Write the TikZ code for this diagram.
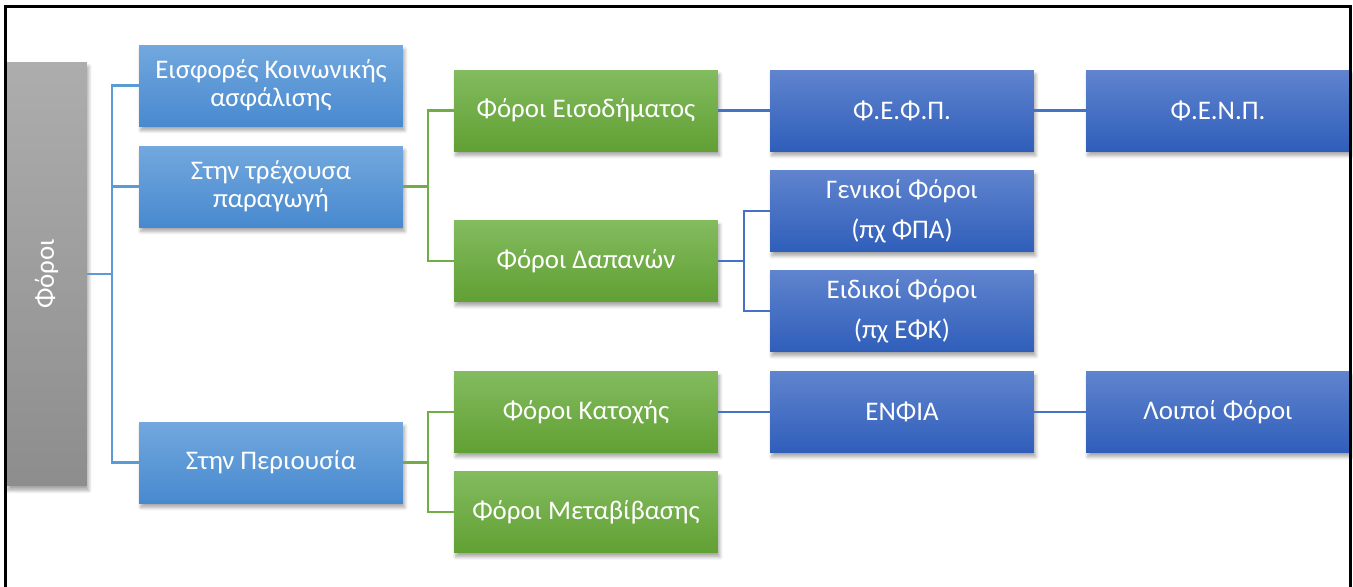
\documentclass[tikz,border=0pt]{standalone}
\usepackage{fontspec}
\setmainfont{Carlito}
\usepackage{tikz}
\usetikzlibrary{positioning}
\usetikzlibrary{shadows.blur}

\definecolor{lvlonetop}{HTML}{72A8DE}
\definecolor{lvlonebot}{HTML}{4889CF}
\definecolor{greentop}{HTML}{83BB5F}
\definecolor{greenbot}{HTML}{61A033}
\definecolor{darktop}{HTML}{6084CE}
\definecolor{darkbot}{HTML}{2F5EBA}
\definecolor{greytop}{HTML}{ADADAD}
\definecolor{greybot}{HTML}{8D8D8D}
\definecolor{lvlonelink}{HTML}{5B9BD5}
\definecolor{greenlink}{HTML}{70AD47}
\definecolor{darklink}{HTML}{4472C4}

\begin{document}
\begin{tikzpicture}[x=0.02cm, y=-0.02cm,
  box/.style={minimum width=5.28cm, minimum height=1.62cm, inner sep=0pt, text=white, align=center,
    font=\fontsize{15.3}{16}\selectfont, blur shadow={shadow xshift=1pt, shadow yshift=-2.5pt, shadow blur steps=6, shadow opacity=35}},
  lvlone/.style={box, top color=lvlonetop, bottom color=lvlonebot},
  greenbox/.style={box, top color=greentop, bottom color=greenbot},
  darkbox/.style={box, top color=darktop, bottom color=darkbot},
  link/.style={line width=1.3pt}]
  \useasboundingbox (0,0) rectangle (1353,586);

  \node[box, top color=greytop, bottom color=greybot, minimum width=1.62cm, minimum height=8.48cm] at (46.5,274) (tax) {};
  \node[rotate=90, text=white, font=\fontsize{15.3}{16}\selectfont] at (tax.center) (taxlabel) {Φόροι};

  \node[lvlone] at (271,85.5) (social) {Εισφορές Κοινωνικής\\ασφάλισης};
  \node[lvlone] at (271,186.5) (current) {Στην τρέχουσα\\παραγωγή};
  \node[lvlone] at (271,462.5) (property) {Στην Περιουσία};

  \node[greenbox] at (586,110.5) (income) {Φόροι Εισοδήματος};
  \node[greenbox] at (586,261) (spend) {Φόροι Δαπανών};
  \node[greenbox] at (586,412) (hold) {Φόροι Κατοχής};
  \node[greenbox] at (586,512) (transfer) {Φόροι Μεταβίβασης};

  \node[darkbox] at (902,110.5) (fefp) {Φ.Ε.Φ.Π.};
  \node[darkbox] at (902,211) (general) {Γενικοί Φόροι\\[7pt](πχ ΦΠΑ)};
  \node[darkbox] at (902,311) (special) {Ειδικοί Φόροι\\[7pt](πχ ΕΦΚ)};
  \node[darkbox] at (902,412) (enfia) {ΕΝΦΙΑ};

  \node[darkbox] at (1218,110.5) (fenp) {Φ.Ε.Ν.Π.};
  \node[darkbox] at (1218,412) (other) {Λοιποί Φόροι};

  \coordinate (taxfork) at (112,274);
  \coordinate (currentfork) at (428,186.5);
  \coordinate (propertyfork) at (428,462.5);
  \coordinate (spendfork) at (744,261);

  \draw[link, lvlonelink] (tax.east |- taxfork) -- (taxfork);
  \draw[link, lvlonelink] (taxfork) |- (social.west);
  \draw[link, lvlonelink] (taxfork) |- (current.west);
  \draw[link, lvlonelink] (taxfork) |- (property.west);

  \draw[link, greenlink] (current.east) -- (currentfork);
  \draw[link, greenlink] (currentfork) |- (income.west);
  \draw[link, greenlink] (currentfork) |- (spend.west);
  \draw[link, greenlink] (property.east) -- (propertyfork);
  \draw[link, greenlink] (propertyfork) |- (hold.west);
  \draw[link, greenlink] (propertyfork) |- (transfer.west);

  \draw[link, darklink] (income.east) -- (fefp.west);
  \draw[link, darklink] (fefp.east) -- (fenp.west);
  \draw[link, darklink] (spend.east) -- (spendfork);
  \draw[link, darklink] (spendfork) |- (general.west);
  \draw[link, darklink] (spendfork) |- (special.west);
  \draw[link, darklink] (hold.east) -- (enfia.west);
  \draw[link, darklink] (enfia.east) -- (other.west);

  \draw[line width=1.8pt] (5.5,600) |- (1350.5,6.5) -- (1350.5,600);
\end{tikzpicture}
\end{document}
